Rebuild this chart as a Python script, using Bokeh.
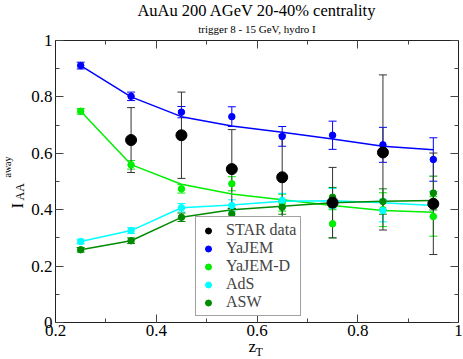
import math
from bokeh.plotting import figure
from bokeh.models import (Range1d, LinearAxis, FixedTicker, NumeralTickFormatter, Whisker,
                          TeeHead, ColumnDataSource, Legend, LegendItem, Label,
                          CustomLabelingPolicy)
from bokeh.embed import file_html
from bokeh.resources import INLINE

# ---------------- data ----------------
z_star = [0.35, 0.45, 0.55, 0.65, 0.75, 0.85, 0.95]
star_val = [0.647, 0.664, 0.544, 0.515, 0.425, 0.603, 0.421]
star_err = [0.115, 0.153, 0.140, 0.150, 0.125, 0.275, 0.180]

z_model = [0.25, 0.35, 0.45, 0.55, 0.65, 0.75, 0.85, 0.95]

yajem_pts = [0.911, 0.802, 0.746, 0.730, 0.660, 0.664, 0.630, 0.578]
yajem_err = [0.012, 0.015, 0.020, 0.035, 0.035, 0.050, 0.062, 0.077]
yajem_line = [0.911, 0.800, 0.730, 0.697, 0.675, 0.651, 0.625, 0.613]

yajemd_pts = [0.749, 0.559, 0.474, 0.492, 0.425, 0.350, 0.400, 0.376]
yajemd_err = [0.010, 0.015, 0.015, 0.025, 0.030, 0.050, 0.060, 0.070]
yajemd_line = [0.749, 0.560, 0.490, 0.456, 0.435, 0.415, 0.397, 0.391]

ads_pts = [0.287, 0.326, 0.407, 0.415, 0.433, 0.440, 0.397, 0.420]
ads_err = [0.008, 0.010, 0.015, 0.020, 0.025, 0.035, 0.040, 0.045]
ads_line = [0.287, 0.326, 0.407, 0.417, 0.430, 0.432, 0.425, 0.415]

asw_pts = [0.258, 0.290, 0.373, 0.385, 0.409, 0.444, 0.429, 0.459]
asw_err = [0.008, 0.010, 0.015, 0.020, 0.025, 0.035, 0.045, 0.060]
asw_line = [0.258, 0.290, 0.373, 0.400, 0.412, 0.425, 0.430, 0.433]

x_ticks = [0.2, 0.4, 0.6, 0.8, 1.0]
x_minor = [0.3, 0.5, 0.7, 0.9]
y_ticks = [0.0, 0.2, 0.4, 0.6, 0.8, 1.0]
y_minor = [0.1, 0.3, 0.5, 0.7, 0.9]
x_lim = (0.2, 1.0)
y_lim = (0.0, 1.0)

title_text = "AuAu 200 AGeV 20-40% centrality"
subtitle_text = "trigger 8 - 15 GeV, hydro I"
series_names = ["STAR data", "YaJEM", "YaJEM-D", "AdS", "ASW"]

# ---------------- layout / styling ----------------
FONT = "Liberation Serif"
BLUE = "#0000ff"
LIME = "#00ee00"
CYAN = "#00ffff"
DKGREEN = "#008b00"

W, H = 463, 359
# pixel box of the axes area inside the figure
PL, PR, PT, PB = 55, 458, 40, 322
sx = (x_lim[1] - x_lim[0]) / (PR - PL)
sy = (y_lim[1] - y_lim[0]) / (PB - PT)
x_range = Range1d(x_lim[0] - PL * sx, x_lim[1] + (W - PR) * sx)
y_range = Range1d(y_lim[0] - (H - PB) * sy, y_lim[1] + PT * sy)

p = figure(width=W, height=H, x_range=x_range, y_range=y_range,
           output_backend="svg", toolbar_location=None,
           min_border_left=0, min_border_right=0, min_border_top=0, min_border_bottom=0)
p.xgrid.visible = False
p.ygrid.visible = False
p.outline_line_color = None
p.background_fill_color = "white"
p.border_fill_color = "white"

no_labels = CustomLabelingPolicy(code="for (const i of Array.from(indices)) { indices.unset(i) }\nreturn indices")


def style_axis(ax, ticks, minor, bounds, loc, show_labels):
    ax.ticker = FixedTicker(ticks=ticks, minor_ticks=minor)
    ax.formatter = NumeralTickFormatter(format="0.[0]")
    ax.fixed_location = loc
    ax.bounds = bounds
    ax.axis_line_color = "#222222"
    ax.axis_line_width = 1
    ax.major_tick_line_color = "#444444"
    ax.minor_tick_line_color = "#444444"
    ax.major_tick_in = 8
    ax.major_tick_out = 0
    ax.minor_tick_in = 4
    ax.minor_tick_out = 0
    ax.axis_label = None
    if show_labels:
        ax.major_label_text_font = FONT
        ax.major_label_text_font_size = "17px"
        ax.major_label_text_color = "black"
    else:
        ax.major_label_policy = no_labels


style_axis(p.xaxis[0], x_ticks, x_minor, x_lim, y_lim[0], True)
p.xaxis[0].major_label_standoff = 2
style_axis(p.yaxis[0], y_ticks, y_minor, y_lim, x_lim[0], True)
p.yaxis[0].major_label_standoff = 3

top_ax = LinearAxis()
style_axis(top_ax, x_ticks, x_minor, x_lim, y_lim[1], False)
p.add_layout(top_ax, "above")
right_ax = LinearAxis()
style_axis(right_ax, y_ticks, y_minor, y_lim, x_lim[1], False)
p.add_layout(right_ax, "right")


def add_errors(xs, vals, errs, color, size):
    src = ColumnDataSource(dict(x=xs,
                                upper=[v + e for v, e in zip(vals, errs)],
                                lower=[v - e for v, e in zip(vals, errs)]))
    w = Whisker(base="x", upper="upper", lower="lower", source=src, dimension="height",
                line_color=color, line_width=1,
                upper_head=TeeHead(size=size, line_color=color, line_width=1),
                lower_head=TeeHead(size=size, line_color=color, line_width=1))
    p.add_layout(w)


# model curves
models = [
    (yajem_pts, yajem_err, yajem_line, BLUE),
    (yajemd_pts, yajemd_err, yajemd_line, LIME),
    (ads_pts, ads_err, ads_line, CYAN),
    (asw_pts, asw_err, asw_line, DKGREEN),
]
legend_renderers = []
for pts, err, line, col in models:
    p.line(z_model, line, line_color=col, line_width=1.5)
for pts, err, line, col in models:
    add_errors(z_model, pts, err, col, 8)
    # small marker (used for the legend glyph), covered by the plotted marker
    legend_renderers.append(p.scatter(z_model, pts, marker="circle", size=5,
                                      fill_color=col, line_color=col))
    p.scatter(z_model, pts, marker="circle", size=6.5, fill_color=col, line_color=col)

# STAR data
add_errors(z_star, star_val, star_err, "#333333", 8)
star_leg = p.scatter(z_star, star_val, marker="circle", size=8.5,
                     fill_color="black", line_color="black")
p.scatter(z_star, star_val, marker="circle", size=11, fill_color="black", line_color="black")
legend_renderers.insert(0, star_leg)

items = [LegendItem(label=name, renderers=[r]) for name, r in zip(series_names, legend_renderers)]
legend = Legend(items=items, location=(195, 43), orientation="vertical",
                label_text_font=FONT, label_text_font_size="16px",
                label_height=15, glyph_height=15, glyph_width=16, label_standoff=10,
                spacing=0, padding=4, margin=0,
                border_line_color="#444444", border_line_width=1,
                background_fill_color="white", background_fill_alpha=1.0)
p.add_layout(legend, "center")


def add_label(x, y, text, size, x_off=0, y_off=0, align="left", angle=0.0):
    p.add_layout(Label(x=x, y=y, x_offset=x_off, y_offset=y_off, text=text,
                       text_align=align, text_baseline="alphabetic", angle=angle,
                       text_font=FONT, text_font_size=size, text_color="black"))


xc = (x_lim[0] + x_lim[1]) / 2
# titles (pixel offsets above the top edge of the axes box)
add_label(xc, y_lim[1], title_text, "16.5px", y_off=30, align="center")
add_label(xc, y_lim[1], subtitle_text, "11px", y_off=12, align="center")

# y axis label I_AA^away (rotated, offsets in px from the left axis)
add_label(x_lim[0], 0.404, "I", "17px", x_off=-38, angle=math.pi / 2)
add_label(x_lim[0], 0.433, "AA", "12px", x_off=-36, angle=math.pi / 2)
add_label(x_lim[0], 0.514, "away", "10px", x_off=-48, angle=math.pi / 2)

# x axis label z_T
add_label(xc, y_lim[0], "z", "17px", x_off=-8.5, y_off=-24)
add_label(xc, y_lim[0], "T", "12px", x_off=-1.5, y_off=-29)

open("out.html", "w").write(file_html(p, INLINE))
